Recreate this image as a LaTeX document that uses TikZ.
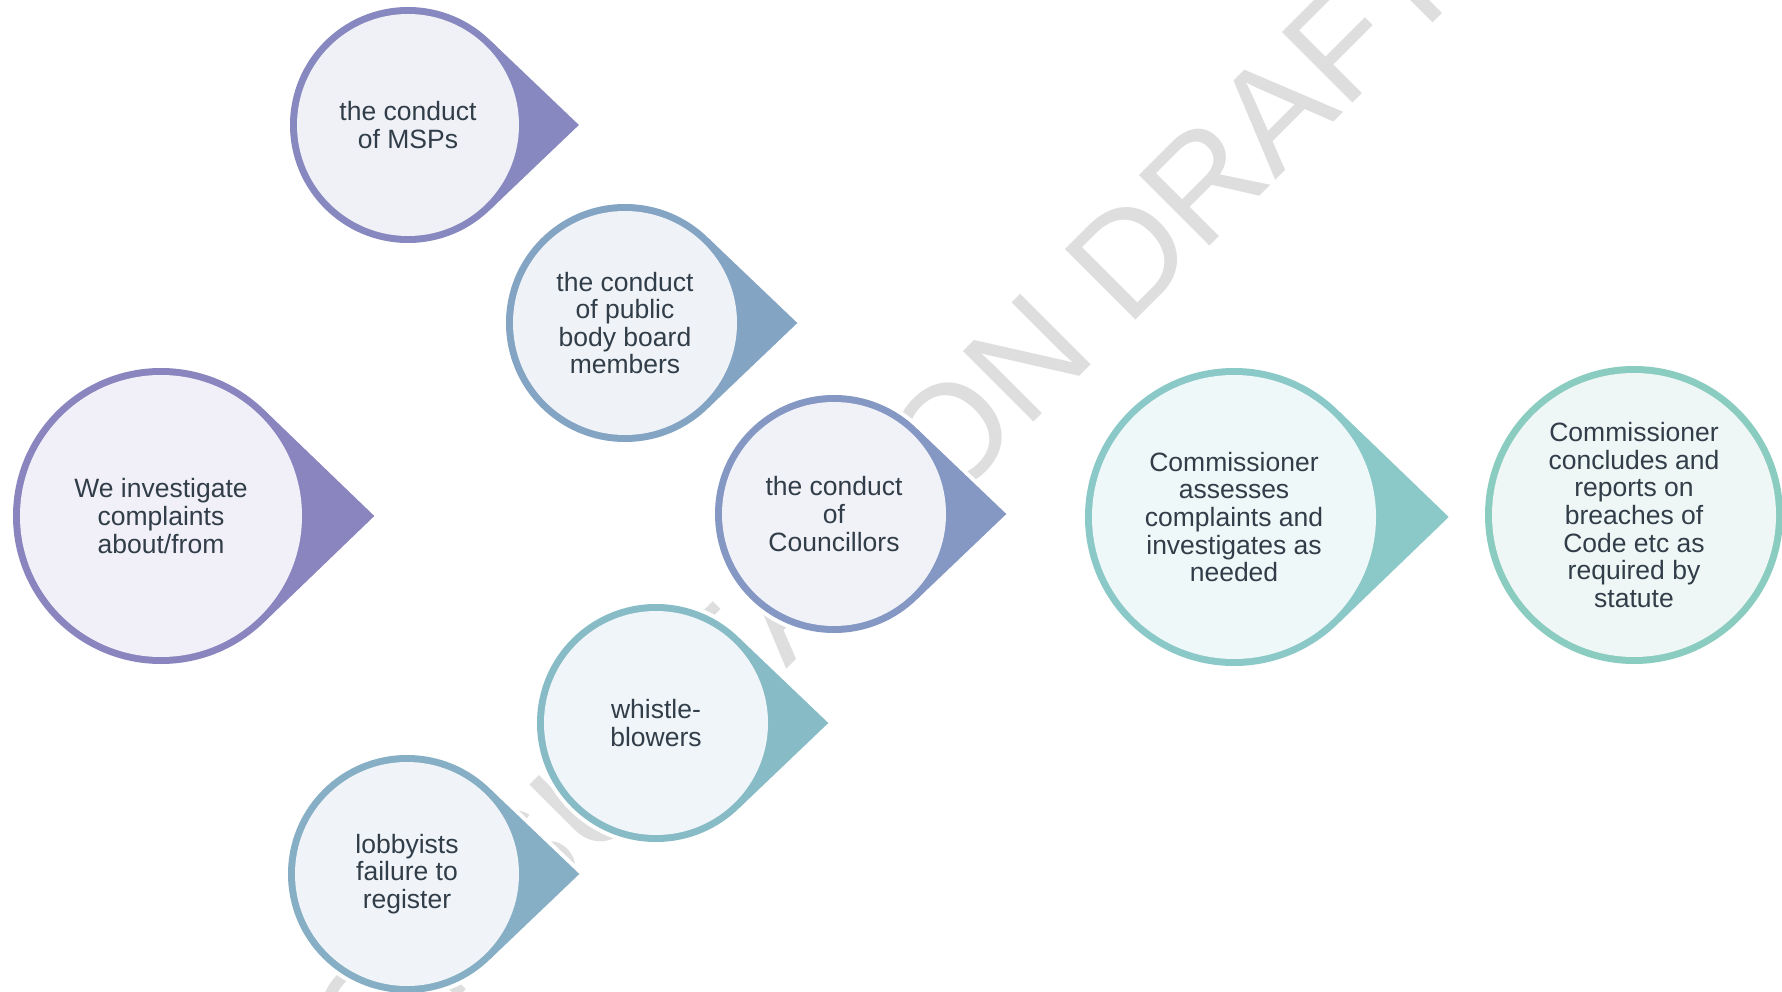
\documentclass[tikz,border=0pt]{standalone}
\usepackage{fontspec}
\setmainfont{Liberation Sans}
\newfontfamily\wmfont[Kerning=Off]{Liberation Sans}
\definecolor{txt}{HTML}{313D48}
\definecolor{wmc}{HTML}{DEDEDE}
\definecolor{cA}{HTML}{8A85BF}\definecolor{fA}{HTML}{F1F0F8}
\definecolor{cB}{HTML}{8788BF}\definecolor{fB}{HTML}{F0F1F7}
\definecolor{cC}{HTML}{84A4C4}\definecolor{fC}{HTML}{EFF3F7}
\definecolor{cD}{HTML}{8598C4}\definecolor{fD}{HTML}{F1F2F7}
\definecolor{cE}{HTML}{87BBC6}\definecolor{fE}{HTML}{EFF5F8}
\definecolor{cF}{HTML}{86AFC6}\definecolor{fF}{HTML}{F0F4F8}
\definecolor{cG}{HTML}{8BC8C8}\definecolor{fG}{HTML}{EFF8F8}
\definecolor{cH}{HTML}{8ACCBF}\definecolor{fH}{HTML}{EFF7F6}
% name, cx, cy, R, colour, light fill, text
\newcommand{\tdropshape}[7]{%
  \pgfmathsetmacro{\tdD}{#4*0.70711}%
  \pgfmathsetmacro{\tdT}{#4*1.41421+4}%
  \pgfmathsetmacro{\tdI}{2*(#4-7)}%
  \draw[halo] (#2,#3) circle[radius=#4];
  \draw[halo] (#2+\tdD,#3-\tdD) -- (#2+\tdT,#3) -- (#2+\tdD,#3+\tdD);
  \fill[#5] (#2,#3) circle[radius=#4];
  \fill[#5] (#2,#3) -- (#2+\tdD,#3-\tdD) -- (#2+\tdT,#3) -- (#2+\tdD,#3+\tdD) -- cycle;
  \node[bub, fill=#6, minimum size=\tdI pt] (#1) at (#2,#3) {#7};
}
\begin{document}
\begin{tikzpicture}[x=1pt,y=-1pt,
  halo/.style={draw=white, line width=8pt, line join=miter},
  bub/.style={circle, inner sep=0pt, align=center, text=txt,
    font=\fontsize{26.5}{27.6}\selectfont},
  wmark/.style={rotate=45, anchor=base west, inner sep=0pt, text=wmc,
    font=\wmfont\fontsize{145}{145}\selectfont}]
\useasboundingbox (0,0) rectangle (1782,992);
\clip (0,0) rectangle (1782,992);
\fill[white] (0,0) rectangle (1782,992);
\node[wmark] (wm) at (296,1160) {CONSULTATION DRAFT};
\tdropshape{we}{161}{516}{148}{cA}{fA}{We investigate\\complaints\\about/from}
\tdropshape{msp}{408}{125}{118}{cB}{fB}{the conduct\\of MSPs}
\tdropshape{pub}{625}{323}{119}{cC}{fC}{the conduct\\of public\\body board\\members}
\tdropshape{cou}{834}{514}{119}{cD}{fD}{the conduct\\of\\Councillors}
\tdropshape{whi}{656}{723}{119}{cE}{fE}{whistle-\\blowers}
\tdropshape{lob}{407}{874}{119}{cF}{fF}{lobbyists\\failure to\\register}
\tdropshape{ass}{1234}{517}{149}{cG}{fG}{Commissioner\\assesses\\complaints and\\investigates as\\needed}
\fill[cH] (1634,515) circle[radius=149];
\node[bub, fill=fH, minimum size=284pt] (con) at (1634,515) {Commissioner\\concludes and\\reports on\\breaches of\\Code etc as\\required by\\statute};
\end{tikzpicture}
\end{document}
